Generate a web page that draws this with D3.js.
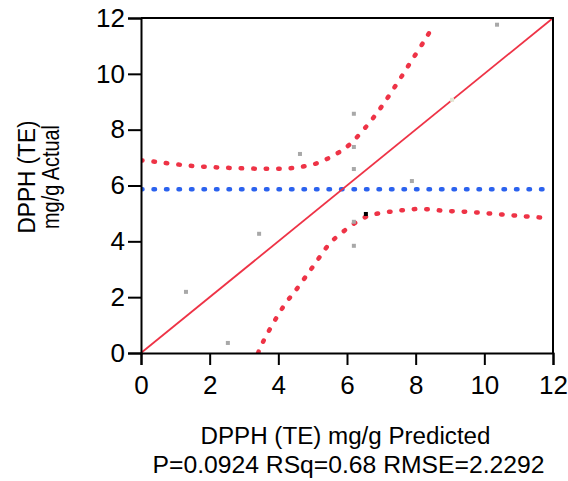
<!DOCTYPE html>
<html>
<head>
<meta charset="utf-8">
<script src="https://cdn.jsdelivr.net/npm/d3@7"></script>
<style>
  html, body { margin: 0; padding: 0; background: #fff; }
  svg { display: block; font-family: "Liberation Sans", Arial, sans-serif; }
</style>
</head>
<body>
<svg id="chart" width="568" height="481"></svg>
<script>
// ---- data ----
const xTicks = [0, 2, 4, 6, 8, 10, 12];
const yTicks = [0, 2, 4, 6, 8, 10, 12];
// points: predicted (x), actual (y)
const predicted = [1.31, 2.53, 3.44, 4.63, 6.20, 6.20, 6.20, 7.89, 10.37, 6.20, 6.20];
const actual    = [2.19, 0.36, 4.27, 7.13, 8.57, 7.38, 6.59, 6.16, 11.76, 4.70, 3.84];
const highlightPred = [6.55];
const highlightAct  = [4.98];
const palePred = [9.06];
const paleAct  = [9.07];
// fit line
const fitX = [0, 12];
const fitY = [0, 12];
// mean of actual
const meanY = 5.87;
// confidence curves
const upperX = [0, 0.41, 1.5, 2.6, 3.67, 4.43, 5.13, 5.74, 6.06, 6.58, 7.02, 7.45, 7.86, 8.27, 8.48];
const upperY = [6.9, 6.85, 6.7, 6.63, 6.6, 6.63, 6.8, 7.17, 7.45, 8.14, 8.85, 9.64, 10.43, 11.22, 11.65];
const lowerX = [3.41, 3.55, 4.14, 4.6, 5.04, 5.48, 5.77, 6.38, 6.73, 7.45, 8.13, 8.86, 9.58, 10.31, 11.04, 11.77];
const lowerY = [0.0, 0.39, 1.65, 2.4, 3.15, 3.9, 4.23, 4.77, 4.95, 5.09, 5.16, 5.09, 5.05, 4.98, 4.91, 4.84];
const xTitle = "DPPH (TE) mg/g Predicted";
const statsText = "P=0.0924 RSq=0.68 RMSE=2.2292";
const yTitle1 = "DPPH (TE)";
const yTitle2 = "mg/g Actual";

// ---- layout ----
const svg = d3.select("#chart");
const L = 141, R = 553, T = 18, B = 353;
const x = d3.scaleLinear().domain([0, 12]).range([L, R]);
const y = d3.scaleLinear().domain([0, 12]).range([B, T]);

const RED = "#ee3346", BLUE = "#2b62ee";

const plot = svg.append("g");
plot.append("clipPath").attr("id", "clip")
  .append("rect").attr("x", L).attr("y", T).attr("width", R - L).attr("height", B - T);

const g = plot.append("g").attr("clip-path", "url(#clip)");

// mean line
g.append("line")
  .attr("x1", x(0)).attr("x2", x(12)).attr("y1", y(meanY)).attr("y2", y(meanY))
  .attr("stroke", BLUE).attr("stroke-width", 4.5)
  .attr("stroke-dasharray", "1.5 11").attr("stroke-linecap", "round");

// fit line
const line = d3.line().x(d => x(d[0])).y(d => y(d[1]));
g.append("path").datum(fitX.map((v, i) => [v, fitY[i]]))
  .attr("d", line).attr("fill", "none").attr("stroke", RED).attr("stroke-width", 1.8);

// confidence curves
const curve = d3.line().x(d => x(d[0])).y(d => y(d[1])).curve(d3.curveCatmullRom);
[[upperX, upperY], [lowerX, lowerY]].forEach(([xs, ys]) => {
  g.append("path").datum(xs.map((v, i) => [v, ys[i]]))
    .attr("d", curve).attr("fill", "none").attr("stroke", RED).attr("stroke-width", 4.5)
    .attr("stroke-dasharray", "1.5 11").attr("stroke-linecap", "round");
});

// points
function pts(xs, ys, color) {
  g.selectAll(null).data(xs.map((v, i) => [v, ys[i]])).enter().append("rect")
    .attr("x", d => x(d[0]) - 2).attr("y", d => y(d[1]) - 2)
    .attr("width", 4).attr("height", 4).attr("fill", color);
}
pts(predicted, actual, "#a8a8a8");
pts(palePred, paleAct, "#e2e6d2");
pts(highlightPred, highlightAct, "#000");

// axes
const fontTick = "26px";
const xAxis = svg.append("g").attr("transform", `translate(0,${B})`)
  .call(d3.axisBottom(x).tickValues(xTicks).tickSize(12).tickPadding(11).tickFormat(d3.format("d")));
const yAxis = svg.append("g").attr("transform", `translate(${L},0)`)
  .call(d3.axisLeft(y).tickValues(yTicks).tickSize(13).tickPadding(3).tickFormat(d3.format("d")));
[xAxis, yAxis].forEach(a => {
  a.selectAll("path.domain").attr("stroke", "#000").attr("stroke-width", 2);
  a.selectAll(".tick line").attr("stroke", "#000").attr("stroke-width", 2);
  a.selectAll(".tick text").attr("fill", "#000").style("font-size", fontTick)
    .style("font-family", '"Liberation Sans", Arial, sans-serif');
});
// frame top and right
svg.append("line").attr("x1", L).attr("x2", R + 1).attr("y1", T).attr("y2", T)
  .attr("stroke", "#000").attr("stroke-width", 2);
svg.append("line").attr("x1", R).attr("x2", R).attr("y1", T).attr("y2", B)
  .attr("stroke", "#000").attr("stroke-width", 2);

// titles
svg.append("text").attr("x", 345.5).attr("y", 444).attr("text-anchor", "middle")
  .attr("textLength", 290).attr("lengthAdjust", "spacingAndGlyphs")
  .style("font-size", "23px").attr("fill", "#000").text(xTitle);
svg.append("text").attr("x", 348.5).attr("y", 473).attr("text-anchor", "middle")
  .attr("textLength", 392).attr("lengthAdjust", "spacingAndGlyphs")
  .style("font-size", "23px").attr("fill", "#000").text(statsText);

svg.append("text").attr("transform", "translate(35,177) rotate(-90)").attr("text-anchor", "middle")
  .attr("textLength", 113).attr("lengthAdjust", "spacingAndGlyphs")
  .style("font-size", "23px").attr("fill", "#000").text(yTitle1);
svg.append("text").attr("transform", "translate(59,177) rotate(-90)").attr("text-anchor", "middle")
  .attr("textLength", 104).attr("lengthAdjust", "spacingAndGlyphs")
  .style("font-size", "23px").attr("fill", "#000").text(yTitle2);
</script>
</body>
</html>
